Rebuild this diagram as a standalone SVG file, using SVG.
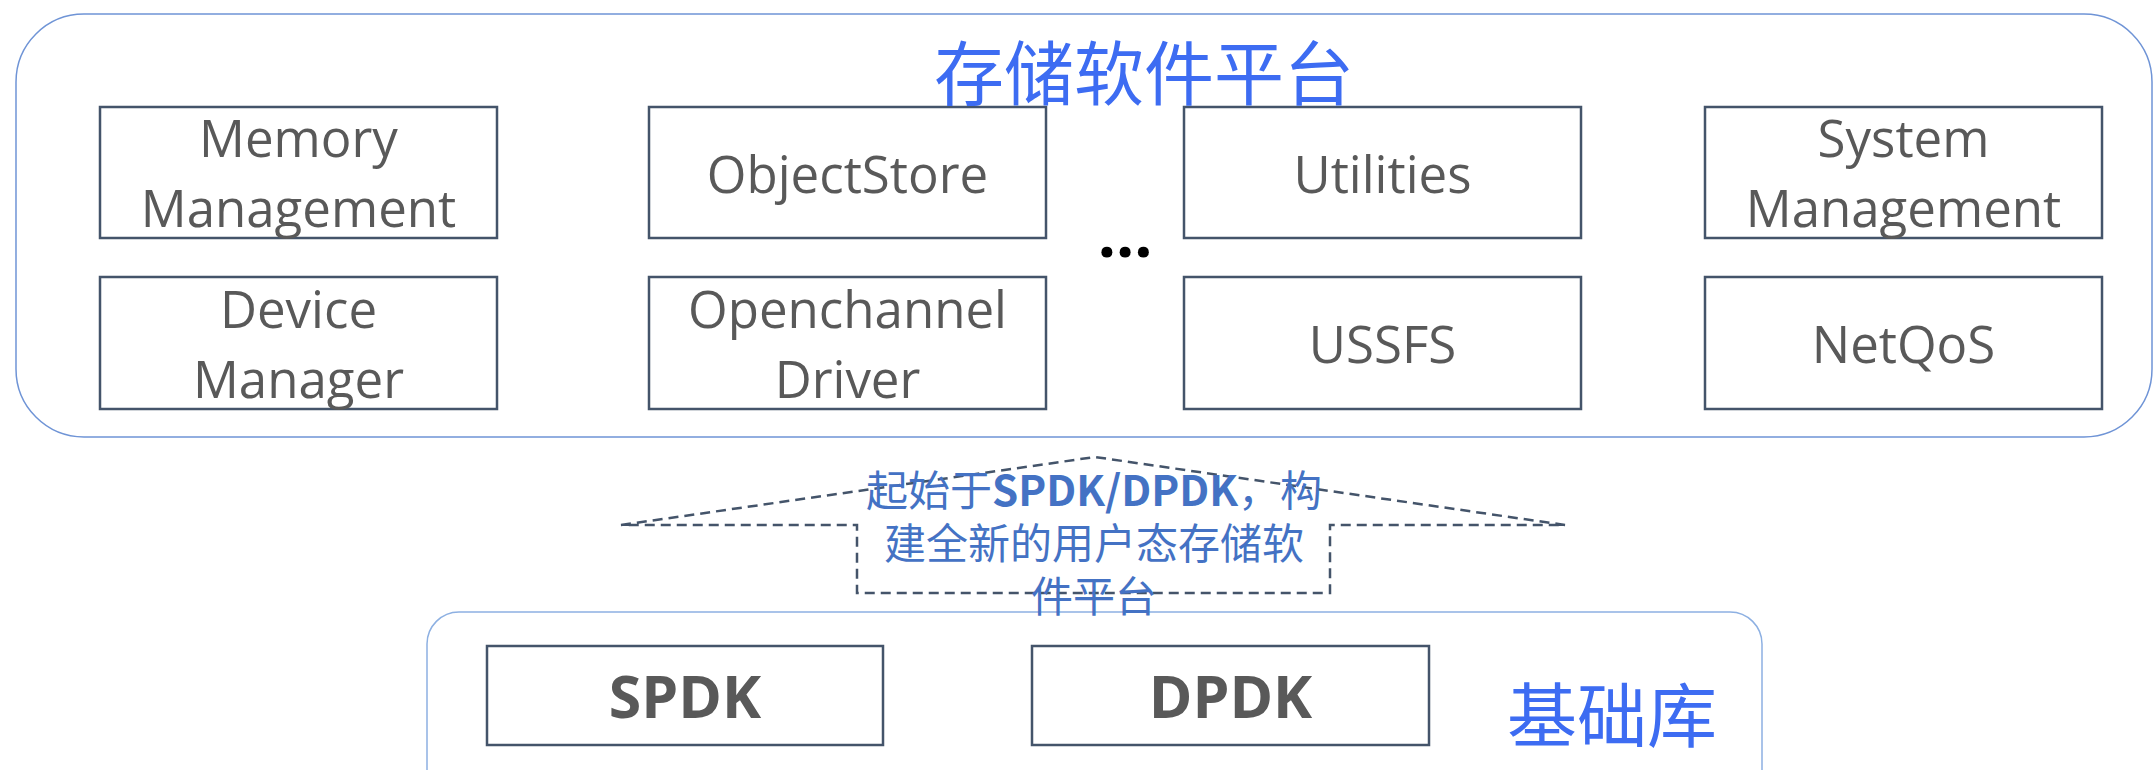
<svg xmlns="http://www.w3.org/2000/svg" width="2154" height="770" viewBox="0 0 2154 770">
<style>
.box{fill:#ffffff;stroke:#44546A;stroke-width:2.5}
.lbl{font-family:"Open Sans","Noto Sans",sans-serif;font-size:51px;fill:#595959;text-anchor:middle}
.big{font-family:"Open Sans","Noto Sans",sans-serif;font-size:59px;font-weight:bold;fill:#595959;text-anchor:middle}
.cjk{font-family:"Noto Sans CJK SC",sans-serif;fill:#3D6CF2;text-anchor:middle}
.note{font-family:"Noto Sans CJK SC",sans-serif;font-size:42px;fill:#4472C4;text-anchor:middle}
.dash{fill:none;stroke:#44546A;stroke-width:2.5;stroke-dasharray:10 6}
</style>
<rect id="platform" x="16" y="14" width="2136" height="423" rx="68" ry="68" fill="none" stroke="#6F94D6" stroke-width="1.5"/>
<rect id="base" x="427" y="612" width="1335" height="200" rx="32" ry="32" fill="none" stroke="#8DB0E2" stroke-width="1.5"/>
<g id="n-memory"><rect class="box" x="100" y="107" width="397" height="131"/><text class="lbl" x="298.5" y="157">Memory<tspan x="298.5" dy="70">Management</tspan></text></g>
<g id="n-objectstore"><rect class="box" x="649" y="107" width="397" height="131"/><text class="lbl" x="847.5" y="193">ObjectStore</text></g>
<g id="n-utilities"><rect class="box" x="1184" y="107" width="397" height="131"/><text class="lbl" x="1382.5" y="193">Utilities</text></g>
<g id="n-system"><rect class="box" x="1705" y="107" width="397" height="131"/><text class="lbl" x="1903.5" y="157">System<tspan x="1903.5" dy="70">Management</tspan></text></g>
<g id="n-device"><rect class="box" x="100" y="277" width="397" height="132"/><text class="lbl" x="298.5" y="328">Device<tspan x="298.5" dy="70">Manager</tspan></text></g>
<g id="n-openchannel"><rect class="box" x="649" y="277" width="397" height="132"/><text class="lbl" x="847.5" y="328">Openchannel<tspan x="847.5" dy="70">Driver</tspan></text></g>
<g id="n-ussfs"><rect class="box" x="1184" y="277" width="397" height="132"/><text class="lbl" x="1382.5" y="363">USSFS</text></g>
<g id="n-netqos"><rect class="box" x="1705" y="277" width="397" height="132"/><text class="lbl" x="1903.5" y="363">NetQoS</text></g>
<text id="ellipsis" x="1125" y="257" font-family="Open Sans, sans-serif" font-size="64" font-weight="bold" fill="#000000" text-anchor="middle">...</text>
<text id="title" class="cjk" x="1144" y="100" font-size="70">存储软件平台</text>
<g id="connectors">
<path class="dash" d="M621,525 L1095,457 L1565,525 L1330,525 L1330,593 L857,593 L857,525 Z"/>
</g>
<g id="note">
<text class="note" x="1094" y="506">起始于<tspan font-weight="bold">SPDK/DPDK</tspan>，构<tspan x="1094" dy="53">建全新的用户态存储软</tspan><tspan x="1094" dy="53">件平台</tspan></text>
</g>
<g id="n-spdk"><rect class="box" x="487" y="646" width="396" height="99"/><text class="big" x="685" y="718">SPDK</text></g>
<g id="n-dpdk"><rect class="box" x="1032" y="646" width="397" height="99"/><text class="big" x="1230.5" y="718">DPDK</text></g>
<text id="base-title" class="cjk" x="1612" y="742" font-size="70">基础库</text>
</svg>
